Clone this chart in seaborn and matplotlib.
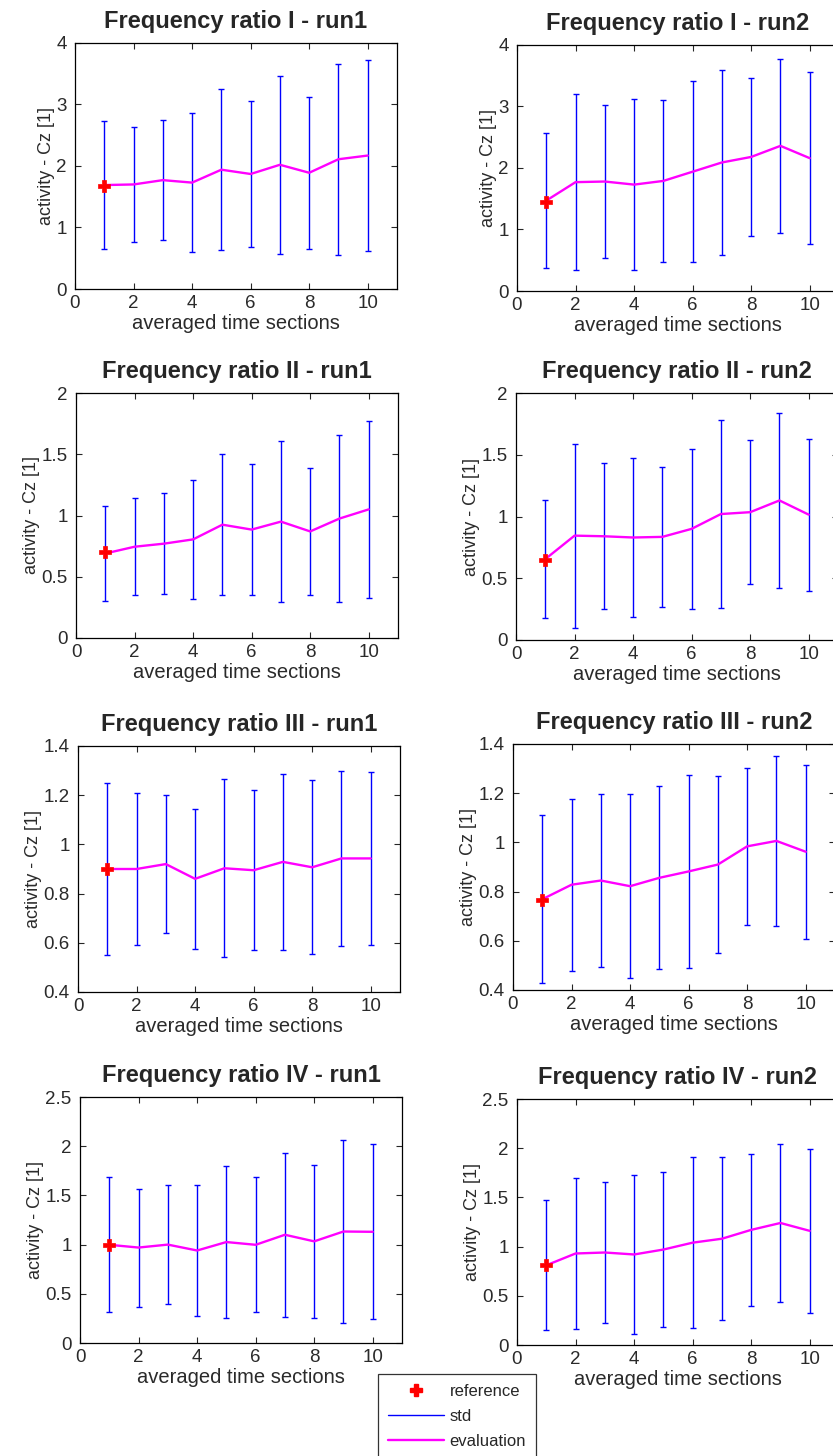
import numpy as np
import pandas as pd
import seaborn as sns
import matplotlib.pyplot as plt
from matplotlib.lines import Line2D
from matplotlib.ticker import FuncFormatter

# x positions (averaged time sections)
sections = [1, 2, 3, 4, 5, 6, 7, 8, 9, 10]

# mean activity ("evaluation") and std per panel
mean_I_run1 = [1.69, 1.70, 1.77, 1.73, 1.94, 1.87, 2.02, 1.89, 2.11, 2.17]
std_I_run1 = [1.04, 0.94, 0.98, 1.13, 1.31, 1.18, 1.45, 1.24, 1.55, 1.55]
mean_I_run2 = [1.47, 1.77, 1.78, 1.73, 1.79, 1.94, 2.09, 2.18, 2.36, 2.16]
std_I_run2 = [1.10, 1.43, 1.24, 1.39, 1.32, 1.47, 1.51, 1.29, 1.41, 1.40]

mean_II_run1 = [0.69, 0.745, 0.77, 0.805, 0.925, 0.885, 0.95, 0.87, 0.975, 1.05]
std_II_run1 = [0.39, 0.395, 0.41, 0.485, 0.575, 0.535, 0.66, 0.52, 0.685, 0.72]
mean_II_run2 = [0.655, 0.845, 0.84, 0.83, 0.835, 0.90, 1.02, 1.035, 1.13, 1.015]
std_II_run2 = [0.475, 0.745, 0.59, 0.64, 0.565, 0.65, 0.76, 0.585, 0.71, 0.615]

mean_III_run1 = [0.90, 0.90, 0.92, 0.86, 0.903, 0.895, 0.929, 0.907, 0.943, 0.943]
std_III_run1 = [0.349, 0.307, 0.28, 0.285, 0.361, 0.325, 0.358, 0.354, 0.356, 0.351]
mean_III_run2 = [0.769, 0.828, 0.845, 0.822, 0.856, 0.882, 0.91, 0.984, 1.006, 0.962]
std_III_run2 = [0.342, 0.35, 0.35, 0.373, 0.372, 0.391, 0.358, 0.32, 0.347, 0.353]

mean_IV_run1 = [0.998, 0.97, 1.0, 0.94, 1.026, 0.998, 1.10, 1.033, 1.133, 1.13]
std_IV_run1 = [0.686, 0.60, 0.607, 0.669, 0.769, 0.686, 0.831, 0.776, 0.933, 0.888]
mean_IV_run2 = [0.81, 0.93, 0.94, 0.92, 0.97, 1.04, 1.08, 1.17, 1.24, 1.16]
std_IV_run2 = [0.66, 0.77, 0.713, 0.81, 0.785, 0.87, 0.83, 0.77, 0.80, 0.835]

# reference value (at section 1) per panel
ref_vals = [1.68, 1.45, 0.70, 0.65, 0.90, 0.765, 1.0, 0.81]

titles = [
    "Frequency ratio I - run1", "Frequency ratio I - run2",
    "Frequency ratio II - run1", "Frequency ratio II - run2",
    "Frequency ratio III - run1", "Frequency ratio III - run2",
    "Frequency ratio IV - run1", "Frequency ratio IV - run2",
]
means = [mean_I_run1, mean_I_run2, mean_II_run1, mean_II_run2,
         mean_III_run1, mean_III_run2, mean_IV_run1, mean_IV_run2]
stds = [std_I_run1, std_I_run2, std_II_run1, std_II_run2,
        std_III_run1, std_III_run2, std_IV_run1, std_IV_run2]

row_ylims = [(0, 4), (0, 2), (0.4, 1.4), (0, 2.5)]
row_yticks = [[0, 1, 2, 3, 4], [0, 0.5, 1, 1.5, 2],
              [0.4, 0.6, 0.8, 1, 1.2, 1.4], [0, 0.5, 1, 1.5, 2, 2.5]]
xticks = [0, 2, 4, 6, 8, 10]

sns.set_style("ticks")
plt.rcParams["font.family"] = ["Liberation Sans", "DejaVu Sans"]

W, H = 833, 1456
fig = plt.figure(figsize=(W / 100, H / 100), dpi=100)

# axes boxes in pixels
lefts = [[75, 517], [76, 516], [78, 513], [80, 517]]
tops = [[43, 45], [393, 393], [746, 744], [1097, 1099]]
bottoms = [[289, 291], [638, 640], [992, 990], [1343, 1345]]
ax_w = 322

text_col = "#2a2a2a"

for i in range(8):
    r, c = divmod(i, 2)
    l, t, b = lefts[r][c], tops[r][c], bottoms[r][c]
    ax = fig.add_axes([l / W, 1 - b / H, ax_w / W, (b - t) / H])

    df = pd.DataFrame({"section": sections, "mean": means[i], "std": stds[i]})

    ax.errorbar(df["section"], df["mean"], yerr=df["std"], fmt="none",
                ecolor="#0000ff", elinewidth=1.0, capsize=2.2, capthick=1.0,
                zorder=2)
    sns.lineplot(data=df, x="section", y="mean", color="#ff00ff",
                 linewidth=1.7, ax=ax, zorder=3)
    ref_df = pd.DataFrame({"section": [sections[0]], "ref": [ref_vals[i]]})
    sns.scatterplot(data=ref_df, x="section", y="ref", color="#ff0000",
                    marker="P", s=80, edgecolor="#ff0000", linewidth=0.5,
                    ax=ax, zorder=4)

    ax.set_xlim(0, 11)
    ax.set_xticks(xticks)
    ax.set_ylim(*row_ylims[r])
    ax.set_yticks(row_yticks[r])
    ax.yaxis.set_major_formatter(FuncFormatter(lambda v, p: f"{v:g}"))

    ax.tick_params(direction="in", top=True, right=True, length=4,
                   width=0.8, labelsize=13.5, labelcolor=text_col)
    ax.tick_params(axis="x", pad=4)
    ax.tick_params(axis="y", pad=6)
    for s in ax.spines.values():
        s.set_visible(True)
        s.set_linewidth(0.9)
        s.set_color("black")

    ax.set_title(titles[i], fontsize=17, fontweight="bold", pad=11)
    ax.set_xlabel("averaged time sections", fontsize=14.5, color=text_col,
                  labelpad=2)
    ax.set_ylabel("activity - Cz [1]", fontsize=13, color=text_col,
                  labelpad=1)

# legend box at the bottom centre, partly cut off by the figure edge
handles = [
    Line2D([], [], color="#ff0000", marker="P", linestyle="none",
           markersize=8),
    Line2D([], [], color="#0000ff", linewidth=1.0),
    Line2D([], [], color="#ff00ff", linewidth=1.7),
]
leg = fig.legend(handles, ["reference", "std", "evaluation"],
                 loc="upper left", bbox_to_anchor=(378 / W, 1 - 1374 / H),
                 fontsize=12, frameon=True, fancybox=False,
                 handlelength=3.35, borderpad=0.6, labelspacing=0.6,
                 handletextpad=0.35, borderaxespad=0)
leg.get_frame().set_edgecolor("black")
leg.get_frame().set_linewidth(0.9)

fig.savefig("out.png", dpi=100)
